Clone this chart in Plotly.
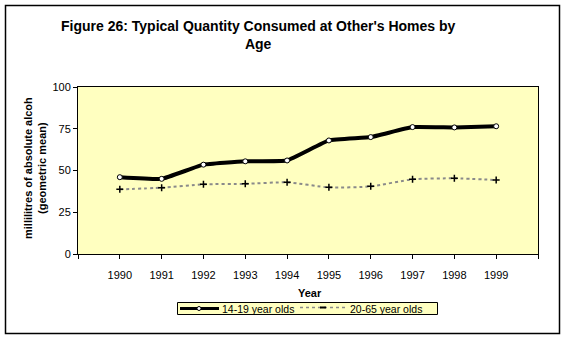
import plotly.graph_objects as go

years = ["1990", "1991", "1992", "1993", "1994", "1995", "1996", "1997", "1998", "1999"]
teens = [46, 45, 53.5, 55.5, 56, 68, 70, 76, 75.8, 76.5]
adults = [38.7, 39.7, 41.7, 42, 42.9, 39.9, 40.5, 44.7, 45.3, 44.3]
y_ticks = [0, 25, 50, 75, 100]
series_names = ["14-19 year olds", "20-65 year olds"]

W, H = 566, 340
L, R, T, B = 78, 538, 87, 254

def px(x):
    return (x - L) / (R - L)

def py(y):
    return (B - y) / (B - T)

FONT = "Liberation Sans, Arial, sans-serif"
xpos = list(range(len(years)))
YELLOW = "#FFFFC0"
DOT_COLOR = "#8a8a8a"

fig = go.Figure()
fig.add_trace(go.Scatter(
    x=xpos, y=teens, name=series_names[0], mode="lines+markers",
    line=dict(color="black", width=4, shape="spline", smoothing=0.3),
    marker=dict(symbol="circle", size=5, color="white", line=dict(color="black", width=1)),
))
fig.add_trace(go.Scatter(
    x=xpos, y=adults, name=series_names[1], mode="lines+markers",
    line=dict(color=DOT_COLOR, width=2, dash="dot", shape="spline", smoothing=0.6),
    marker=dict(symbol="cross-thin", size=5, color="black", line=dict(color="black", width=1.5)),
))

fig.update_layout(
    width=W, height=H,
    margin=dict(l=L, r=W - R, t=T, b=H - B),
    paper_bgcolor="white",
    plot_bgcolor=YELLOW,
    font=dict(family=FONT, size=11, color="black"),
    showlegend=False,
)

fig.update_xaxes(
    range=[-1, len(years)], tickmode="array",
    tickvals=list(range(-1, len(years) + 1)),
    ticktext=[""] + years + [""],
    ticks="outside", ticklen=4, tickcolor="black",
    showline=True, linecolor="black", linewidth=1, mirror=True,
    showgrid=False, zeroline=False, ticklabelstandoff=7,
)
fig.update_yaxes(
    range=[0, 100], tickmode="array", tickvals=y_ticks,
    ticks="outside", ticklen=4, tickcolor="black",
    showline=True, linecolor="black", linewidth=1, mirror=True,
    showgrid=False, zeroline=False,
)

fig.add_annotation(
    text="<b>Figure 26: Typical Quantity Consumed at Other's Homes by<br>Age</b>",
    xref="paper", yref="paper", x=px(258), y=py(35), xanchor="center", yanchor="middle",
    showarrow=False, font=dict(family=FONT, size=14), align="center",
)
fig.add_annotation(
    text="<b>millilitres of absolute alcoh</b>",
    xref="paper", yref="paper", x=px(28), y=py(168), xanchor="center", yanchor="middle",
    showarrow=False, textangle=-90, font=dict(family=FONT, size=11),
)
fig.add_annotation(
    text="<b>(geometric mean)</b>",
    xref="paper", yref="paper", x=px(42), y=py(168), xanchor="center", yanchor="middle",
    showarrow=False, textangle=-90, font=dict(family=FONT, size=11),
)
fig.add_annotation(
    text="<b>Year</b>",
    xref="paper", yref="paper", x=px(310), y=py(293), xanchor="center", yanchor="middle",
    showarrow=False, font=dict(family=FONT, size=11),
)

# outer chart frame
fig.add_shape(
    type="rect", xref="paper", yref="paper",
    x0=px(5.5), x1=px(559.5), y0=py(5.5), y1=py(333.5),
    line=dict(color="black", width=1.5), fillcolor="rgba(0,0,0,0)", layer="below",
)

# custom compact legend
ly = 308.5
fig.add_shape(
    type="rect", xref="paper", yref="paper",
    x0=px(177.5), x1=px(437.5), y0=py(302.5), y1=py(314.5),
    line=dict(color="black", width=1), fillcolor=YELLOW,
)
fig.add_shape(
    type="line", xref="paper", yref="paper",
    x0=px(180), x1=px(219), y0=py(ly), y1=py(ly),
    line=dict(color="black", width=3),
)
fig.add_shape(
    type="circle", xref="paper", yref="paper",
    x0=px(197), x1=px(201), y0=py(ly - 2), y1=py(ly + 2),
    line=dict(color="black", width=1), fillcolor="white",
)
fig.add_annotation(
    text=series_names[0], xref="paper", yref="paper", x=px(220), y=py(ly),
    xanchor="left", yanchor="middle", showarrow=False,
    font=dict(family=FONT, size=10.5),
)
fig.add_shape(
    type="line", xref="paper", yref="paper",
    x0=px(300), x1=px(347), y0=py(ly - 1), y1=py(ly - 1),
    line=dict(color=DOT_COLOR, width=1.5, dash="dot"),
)
fig.add_shape(
    type="line", xref="paper", yref="paper",
    x0=px(320), x1=px(326), y0=py(ly - 1), y1=py(ly - 1),
    line=dict(color="black", width=2),
)
fig.add_annotation(
    text=series_names[1], xref="paper", yref="paper", x=px(348), y=py(ly),
    xanchor="left", yanchor="middle", showarrow=False,
    font=dict(family=FONT, size=10.5),
)

fig.write_html("out.html")
